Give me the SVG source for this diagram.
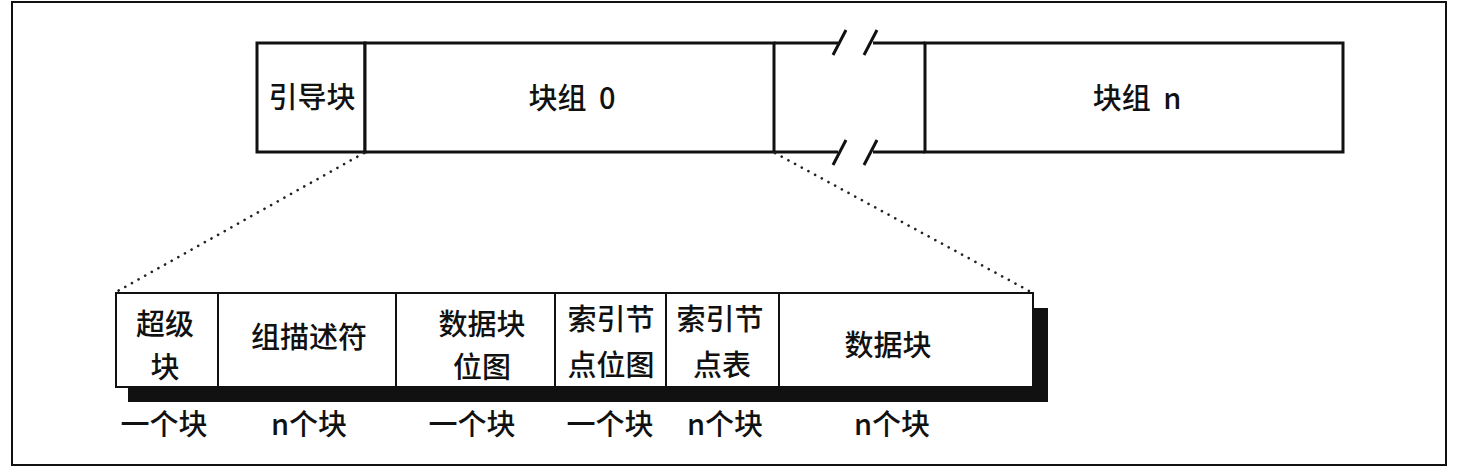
<svg xmlns="http://www.w3.org/2000/svg" width="1474" height="475" viewBox="0 0 1474 475">
<style>
text{font-family:"Noto Sans CJK SC","Noto Sans",sans-serif;font-size:29px;font-weight:500;fill:#111;text-anchor:middle}
.top{fill:#fff;stroke:#111;stroke-width:3}
.bot{fill:#fff;stroke:#111;stroke-width:2}
.ln{stroke:#111;stroke-width:3;fill:none}
.dot{stroke:#222;stroke-width:2.6;fill:none;stroke-dasharray:0.1 7.5;stroke-linecap:round}
</style>
<rect x="12" y="2" width="1434" height="463" fill="#fff" stroke="#111" stroke-width="2"/>
<g id="top-row">
<g id="boot"><rect class="top" x="257" y="43" width="108" height="109"/><text x="312" y="108">引导块</text></g>
<g id="group0"><rect class="top" x="365" y="43" width="409" height="109"/><text x="572" y="109">块组 <tspan dx="6">0</tspan></text></g>
<g id="gap">
<path class="ln" d="M774 43H838M873 43H925M774 152H838M873 152H925"/>
<path class="ln" d="M833 55L846 30M864 55L877 30M833 165L846 140M864 165L877 140"/>
</g>
<g id="groupn"><rect class="top" x="925" y="43" width="418" height="109"/><text x="1137" y="109">块组 <tspan dx="6">n</tspan></text></g>
</g>
<g id="connectors">
<path class="dot" d="M364 153L116 292"/>
<path class="dot" d="M775 153L1031 292"/>
</g>
<g id="bottom-row">
<rect x="128" y="308" width="920" height="94" fill="#111"/>
<g id="superblock"><rect class="bot" x="116" y="293" width="102" height="94"/><text x="165" y="335">超级</text><text x="165" y="378">块</text><text x="164" y="435">一个块</text></g>
<g id="gdt"><rect class="bot" x="218" y="293" width="178" height="94"/><text x="309" y="348">组描述符</text><text x="309" y="435">n个块</text></g>
<g id="dbitmap"><rect class="bot" x="396" y="293" width="159" height="94"/><text x="482" y="335">数据块</text><text x="482" y="378">位图</text><text x="472" y="435">一个块</text></g>
<g id="ibitmap"><rect class="bot" x="555" y="293" width="111" height="94"/><text x="611" y="330">索引节</text><text x="611" y="376">点位图</text><text x="610" y="435">一个块</text></g>
<g id="itable"><rect class="bot" x="666" y="293" width="113" height="94"/><text x="720" y="330">索引节</text><text x="722" y="376">点表</text><text x="725" y="435">n个块</text></g>
<g id="data"><rect class="bot" x="779" y="293" width="254" height="94"/><text x="888" y="356">数据块</text><text x="892" y="435">n个块</text></g>
</g>
</svg>
